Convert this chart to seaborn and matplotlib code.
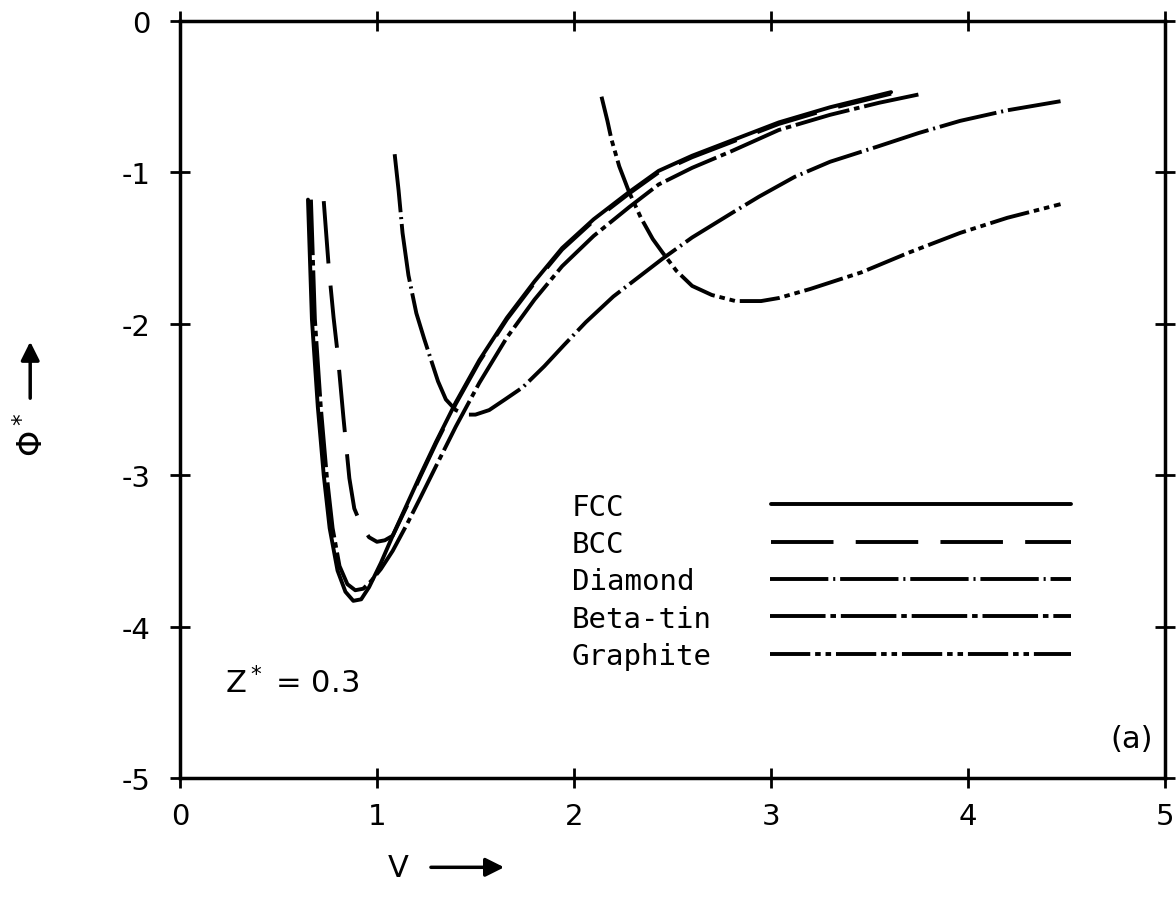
import numpy as np
import pandas as pd
import seaborn as sns
import matplotlib.pyplot as plt
from matplotlib.lines import Line2D

# curves (V, Phi*)
structures = ['FCC', 'BCC', 'Diamond', 'Beta-tin', 'Graphite']

fcc_v = [0.65, 0.67, 0.70, 0.73, 0.76, 0.80, 0.84, 0.88, 0.92, 0.96, 1.02, 1.08, 1.15,
         1.22, 1.30, 1.40, 1.52, 1.66, 1.80, 1.94, 2.10, 2.28, 2.43, 2.60, 2.80, 3.04,
         3.30, 3.61]
fcc_phi = [-1.18, -1.97, -2.55, -3.00, -3.35, -3.63, -3.77, -3.83, -3.82, -3.74, -3.58,
           -3.40, -3.20, -3.00, -2.78, -2.52, -2.24, -1.96, -1.72, -1.50, -1.31, -1.13,
           -0.99, -0.89, -0.79, -0.67, -0.57, -0.47]

bcc_v = [0.73, 0.755, 0.78, 0.80, 0.83, 0.86, 0.885, 0.92, 0.96, 1.00, 1.04, 1.08, 1.15,
         1.22, 1.30, 1.40, 1.52, 1.66, 1.80, 1.94, 2.10, 2.28, 2.43, 2.60, 2.80, 3.04,
         3.30, 3.61]
bcc_phi = [-1.19, -1.62, -1.96, -2.19, -2.62, -3.02, -3.22, -3.33, -3.41, -3.44, -3.43,
           -3.40, -3.21, -3.01, -2.79, -2.53, -2.25, -1.97, -1.73, -1.51, -1.32, -1.14,
           -1.00, -0.90, -0.80, -0.68, -0.58, -0.48]

diamond_v = [1.09, 1.11, 1.13, 1.16, 1.20, 1.24, 1.27, 1.31, 1.35, 1.40, 1.45, 1.50, 1.57,
             1.65, 1.74, 1.85, 1.95, 2.06, 2.20, 2.33, 2.45, 2.60, 2.80, 2.94, 3.12, 3.30,
             3.54, 3.75, 3.96, 4.20, 4.47]
diamond_phi = [-0.88, -1.12, -1.40, -1.68, -1.93, -2.10, -2.22, -2.38, -2.50, -2.57, -2.60,
               -2.60, -2.57, -2.50, -2.42, -2.28, -2.14, -1.99, -1.82, -1.69, -1.57, -1.43,
               -1.27, -1.16, -1.03, -0.93, -0.83, -0.74, -0.66, -0.59, -0.53]

betatin_v = [0.665, 0.685, 0.715, 0.745, 0.775, 0.81, 0.85, 0.89, 0.93, 0.97, 1.02, 1.08,
             1.15, 1.22, 1.30, 1.40, 1.52, 1.66, 1.80, 1.94, 2.10, 2.28, 2.43, 2.60, 2.80,
             3.04, 3.30, 3.55, 3.77]
betatin_phi = [-1.18, -1.97, -2.55, -3.00, -3.35, -3.60, -3.72, -3.76, -3.75, -3.70, -3.62,
               -3.50, -3.33, -3.15, -2.94, -2.68, -2.39, -2.09, -1.84, -1.62, -1.42, -1.23,
               -1.08, -0.97, -0.86, -0.72, -0.62, -0.54, -0.48]

graphite_v = [2.14, 2.17, 2.19, 2.23, 2.28, 2.34, 2.40, 2.45, 2.52, 2.60, 2.70, 2.82, 2.95,
              3.04, 3.20, 3.46, 3.70, 3.96, 4.20, 4.47]
graphite_phi = [-0.50, -0.66, -0.78, -0.96, -1.13, -1.30, -1.44, -1.53, -1.65, -1.75, -1.81,
                -1.85, -1.85, -1.83, -1.77, -1.66, -1.53, -1.40, -1.30, -1.21]

all_v = [fcc_v, bcc_v, diamond_v, betatin_v, graphite_v]
all_phi = [fcc_phi, bcc_phi, diamond_phi, betatin_phi, graphite_phi]

frames = []
for name, v, phi in zip(structures, all_v, all_phi):
    frames.append(pd.DataFrame({'V': v, 'phi': phi, 'structure': name}))
df = pd.concat(frames, ignore_index=True)

# dash patterns in points
dash_styles = {
    'FCC': '',
    'BCC': (45, 16),
    'Diamond': (42, 3.5, 1.5, 3.5),
    'Beta-tin': (40, 3.5, 4, 3.5),
    'Graphite': (29, 3.5, 4, 3.5, 4, 3.5),
}

sns.set_style('ticks')
plt.rcParams['font.family'] = ['DejaVu Sans']
plt.rcParams['axes.unicode_minus'] = False
plt.rcParams['lines.scale_dashes'] = False
plt.rcParams['text.color'] = 'black'
plt.rcParams['axes.labelcolor'] = 'black'
plt.rcParams['xtick.color'] = 'black'
plt.rcParams['ytick.color'] = 'black'

fig, ax = plt.subplots(figsize=(11.76, 9.04), dpi=100)
fig.subplots_adjust(left=0.153, right=0.9906, top=0.9757, bottom=0.1383)

lw = 2.8
sns.lineplot(data=df, x='V', y='phi', style='structure', style_order=structures,
             dashes=dash_styles, color='black', linewidth=lw, sort=False,
             estimator=None, legend=False, ax=ax)

ax.set_xlim(0, 5)
ax.set_ylim(-5, 0)
ax.set_xticks(range(0, 6))
ax.set_yticks(range(-5, 1))
for s in ax.spines.values():
    s.set_linewidth(2.5)
    s.set_color('black')
ax.tick_params(direction='inout', length=14, width=2, top=True, right=True,
               labelsize=21, colors='black')
ax.tick_params(axis='x', pad=10)
ax.tick_params(axis='y', pad=14)

# axis labels with arrows
ax.set_xlabel('V', fontsize=22, va='center')
ax.xaxis.set_label_coords(0.222, -0.118)
ax.annotate('', xy=(0.332, -0.118), xytext=(0.252, -0.118), xycoords='axes fraction',
            arrowprops=dict(arrowstyle='-|>', color='black', lw=2.5, mutation_scale=28))
ax.set_ylabel(r'$\Phi^*$', fontsize=24, va='center')
ax.yaxis.set_label_coords(-0.150, 0.455)
ax.annotate('', xy=(-0.152, 0.580), xytext=(-0.152, 0.498), xycoords='axes fraction',
            arrowprops=dict(arrowstyle='-|>', color='black', lw=2.5, mutation_scale=28))

ax.text(0.046, 0.127, r'Z$^*$ = 0.3', transform=ax.transAxes, fontsize=22,
        ha='left', va='center')
ax.text(0.988, 0.052, '(a)', transform=ax.transAxes, fontsize=22, ha='right', va='center')

# legend: names on the left, line samples on the right
handles = []
for name in structures:
    d = dash_styles[name]
    ls = '-' if d == '' else (0, d)
    handles.append(Line2D([], [], color='black', linewidth=lw, linestyle=ls))
fs = 21
leg = ax.legend(handles, structures, loc='upper left', bbox_to_anchor=(0.398, 0.377),
                frameon=False, markerfirst=False, handlelength=10.3, handletextpad=2.0,
                labelspacing=0.32, borderpad=0, borderaxespad=0,
                prop={'family': 'DejaVu Sans Mono', 'size': fs})
col = leg._legend_handle_box.get_children()[0]
col.align = 'left'
maxlen = max(len(s) for s in structures)
for row, name in zip(col.get_children(), structures):
    row.sep = row.sep + (maxlen - len(name)) * 0.602 * fs

fig.savefig('out.png', dpi=100)
